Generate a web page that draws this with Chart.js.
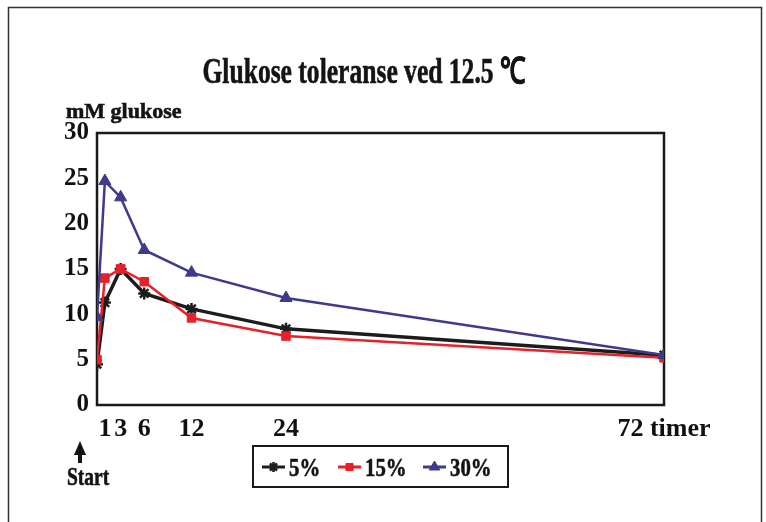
<!DOCTYPE html>
<html>
<head>
<meta charset="utf-8">
<script src="https://cdn.jsdelivr.net/npm/chart.js@4.4.1/dist/chart.umd.min.js"></script>
<style>
html,body{margin:0;padding:0;background:#fff;}
#wrap{width:766px;height:522px;position:relative;}
</style>
</head>
<body>
<div id="wrap"><canvas id="c" width="766" height="522"></canvas></div>
<script>
const titleText = "Glukose toleranse ved 12.5 \u2103";
const yAxisTitle = "mM glukose";
const startLabel = "Start";
const hours = [0, 1, 3, 6, 12, 24, 72];
const xTickValues = [1, 3, 6, 12, 24, 72];
const xUnit = "timer";
const yTickValues = [0, 5, 10, 15, 20, 25, 30];
const seriesNames = ["5%", "15%", "30%"];
const glucose5 = [4.5, 11.3, 15.0, 12.3, 10.6, 8.4, 5.5];
const glucose15 = [5.0, 14.0, 15.0, 13.6, 9.6, 7.6, 5.2];
const glucose30 = [9.7, 24.7, 22.9, 17.1, 14.6, 11.8, 5.5];

const serif = "'Liberation Serif','Times New Roman',serif";
const colors = ["#1c1c1c", "#e8202a", "#3e3a8c"];
const styles = ["star", "rect", "triangle"];
const widths = [3.5, 2.5, 2.5];
const radii = [6, 6, 7];
const allSeries = [glucose5, glucose15, glucose30];

const datasets = allSeries.map((vals, i) => ({
  label: seriesNames[i],
  data: hours.map((h, j) => ({x: h, y: vals[j]})),
  borderColor: colors[i],
  backgroundColor: colors[i],
  borderWidth: widths[i],
  pointStyle: styles[i],
  pointRadius: radii[i],
  pointBorderWidth: i === 0 ? 2.5 : 1,
  pointHoverRadius: radii[i],
  tension: 0,
  order: 3 - i
}));

function txt(ctx, s, x, y, size, sx, align) {
  ctx.save();
  ctx.translate(x, y);
  ctx.scale(sx, 1);
  ctx.font = "bold " + size + "px " + serif;
  ctx.textAlign = align;
  ctx.textBaseline = 'alphabetic';
  ctx.fillStyle = '#141414';
  ctx.strokeStyle = '#141414';
  ctx.lineWidth = 0.6;
  ctx.fillText(s, 0, 0);
  ctx.strokeText(s, 0, 0);
  ctx.restore();
}

const decor = {
  id: 'decor',
  beforeDatasetsDraw(chart) {
    const ctx = chart.ctx, a = chart.chartArea;
    ctx.save();
    ctx.strokeStyle = '#1a1a1a';
    ctx.lineWidth = 2.5;
    ctx.strokeRect(a.left, a.top, a.right - a.left, a.bottom - a.top);
    ctx.restore();
  },
  afterDraw(chart) {
    const ctx = chart.ctx;
    ctx.save();
    // outer frame
    ctx.strokeStyle = '#333';
    ctx.lineWidth = 1.5;
    ctx.strokeRect(8.5, 7.5, 753, 530);
    // title
    txt(ctx, titleText, 364, 83, 36, 0.71, 'center');
    // y axis title
    txt(ctx, yAxisTitle, 66, 118, 22, 1, 'left');
    // start arrow
    ctx.fillStyle = '#141414';
    ctx.beginPath();
    ctx.moveTo(80, 441);
    ctx.lineTo(74, 455);
    ctx.lineTo(86, 455);
    ctx.closePath();
    ctx.fill();
    ctx.fillRect(78, 452, 4, 11);
    txt(ctx, startLabel, 88, 485, 25, 0.78, 'center');
    // legend box
    ctx.lineWidth = 2;
    ctx.strokeStyle = '#1a1a1a';
    ctx.strokeRect(253, 446, 255, 41);
    const lx = [262, 338, 423];
    const cy = 467;
    for (let i = 0; i < 3; i++) {
      ctx.strokeStyle = colors[i];
      ctx.lineWidth = 3;
      ctx.beginPath();
      ctx.moveTo(lx[i], cy);
      ctx.lineTo(lx[i] + 23, cy);
      ctx.stroke();
      ctx.fillStyle = colors[i];
      ctx.lineWidth = i === 0 ? 2.5 : 1;
      Chart.helpers.drawPoint(ctx, {pointStyle: styles[i], radius: radii[i] - 1, rotation: 0, borderWidth: 1}, lx[i] + 11.5, cy);
      txt(ctx, seriesNames[i], lx[i] + 27, cy + 9, 26, 0.8, 'left');
    }
    ctx.restore();
  }
};

new Chart(document.getElementById('c'), {
  type: 'line',
  data: {datasets},
  options: {
    responsive: false,
    animation: false,
    devicePixelRatio: 1,
    layout: {padding: {top: 133, right: 102, left: 0, bottom: 0}},
    plugins: {legend: {display: false}, tooltip: {enabled: false}, title: {display: false}},
    scales: {
      x: {
        type: 'linear', min: 0, max: 72,
        afterBuildTicks(s) { s.ticks = xTickValues.map(v => ({value: v})); },
        afterFit(s) { s.height = 117; },
        grid: {display: false, drawTicks: false},
        border: {display: false},
        ticks: {
          autoSkip: false, maxRotation: 0, padding: 9, color: '#111',
          font: {family: serif, size: 26, weight: 'bold'},
          callback: v => v === 72 ? v + " " + xUnit : String(v)
        }
      },
      y: {
        min: 0, max: 30,
        afterBuildTicks(s) { s.ticks = yTickValues.map(v => ({value: v})); },
        afterFit(s) { s.width = 97; },
        grid: {display: false, drawTicks: false},
        border: {display: false},
        ticks: {padding: 8, color: '#111', font: {family: serif, size: 25, weight: 'bold'}}
      }
    }
  },
  plugins: [decor]
});
</script>
</body>
</html>
